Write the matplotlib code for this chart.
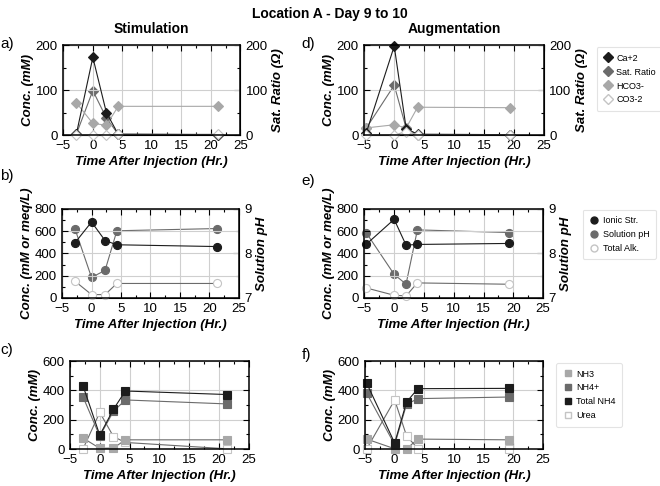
import matplotlib
matplotlib.use("Agg")
import matplotlib.pyplot as plt
from matplotlib.ticker import MultipleLocator
from matplotlib.lines import Line2D

plt.rcParams['font.family'] = ['Liberation Sans', 'DejaVu Sans']

# sampling times (hours after injection)
t_stim = [-2.8, 0, 2.3, 4.3, 21.3]
t_aug = [-4.7, 0, 2.0, 3.9, 19.3]

# a) / d) calcium, saturation ratio, carbonate species
ca_stim = [2, 173, 50, 2, 1]
sat_stim = [2, 99, 38, 2, 1]
hco3_stim = [72, 26, 22, 64, 64]
co3_stim = [0, 0, 0, 2, 2]

ca_aug = [4, 198, 14, 2, 1]
sat_aug = [15, 111, 15, 1, 1]
hco3_aug = [16, 23, 16, 62, 61]
co3_aug = [0, 0, 8, 1, 1]

# b) / e) ionic strength, pH, alkalinity
ionic_stim = [496, 683, 516, 478, 462]
ph_stim = [8.55, 7.46, 7.62, 8.51, 8.56]
alk_stim = [150, 30, 30, 130, 130]

ionic_aug = [481, 707, 475, 481, 490]
ph_aug = [8.47, 7.53, 7.31, 8.53, 8.47]
alk_aug = [90, 24, 18, 135, 123]

# c) / f) nitrogen species
nh3_stim = [75, 5, 7, 63, 63]
nh4p_stim = [355, 88, 258, 335, 308]
tnh4_stim = [430, 95, 272, 396, 372]
urea_stim = [2, 250, 85, 45, 2]

nh3_aug = [68, 2, 2, 68, 63]
nh4p_aug = [380, 30, 305, 344, 355]
tnh4_aug = [448, 41, 321, 412, 414]
urea_aug = [2, 335, 90, 3, 1]

BLACK = '#1c1c1c'
DARK = '#6b6b6b'
LIGHT = '#a8a8a8'
WEDGE = '#c4c4c4'
GRID = '#cfcfcf'
FS = 9.5
LABEL = dict(fontsize=FS, fontweight='bold', style='italic')


def style(ax, ylim, ymaj, ymin, right=True):
    ax.set_xlim(-5, 25)
    ax.set_ylim(*ylim)
    ax.xaxis.set_major_locator(MultipleLocator(5))
    ax.xaxis.set_minor_locator(MultipleLocator(2.5))
    ax.yaxis.set_major_locator(MultipleLocator(ymaj))
    ax.yaxis.set_minor_locator(MultipleLocator(ymin))
    ax.tick_params(which='both', direction='in', top=True, right=right,
                   labelsize=FS, pad=4)
    ax.tick_params(axis='x', which='both', pad=3.5)
    ax.tick_params(which='major', length=4, width=0.8)
    ax.tick_params(which='minor', length=2.5, width=0.8)
    ax.grid(True, which='major', color=GRID, lw=0.8)
    ax.set_axisbelow(True)
    for s in ax.spines.values():
        s.set_linewidth(1.1)
    ax.set_xlabel('Time After Injection (Hr.)', labelpad=3, **LABEL)


def series(ax, t, y, marker, face, edge, ms, lc=None):
    ax.plot(t, y, color=lc or edge, lw=0.8, marker=marker, ms=ms,
            mfc=face, mec=edge, mew=0.8, clip_on=False)


def twin(ax, ylim, ymaj, ymin, label):
    tw = ax.twinx()
    tw.set_ylim(*ylim)
    tw.yaxis.set_major_locator(MultipleLocator(ymaj))
    tw.yaxis.set_minor_locator(MultipleLocator(ymin))
    tw.tick_params(which='both', direction='in', labelsize=FS, pad=4)
    tw.tick_params(which='major', length=4, width=0.8)
    tw.tick_params(which='minor', length=2.5, width=0.8)
    tw.set_ylabel(label, labelpad=3, **LABEL)
    ax.set_zorder(tw.get_zorder() + 1)
    ax.patch.set_visible(False)
    return tw


fig = plt.figure(figsize=(6.6, 4.86), dpi=100)

pos = {
    'a': [0.096, 0.722, 0.268, 0.185],
    'd': [0.552, 0.722, 0.272, 0.185],
    'b': [0.094, 0.387, 0.268, 0.183],
    'e': [0.552, 0.387, 0.271, 0.183],
    'c': [0.106, 0.076, 0.271, 0.181],
    'f': [0.553, 0.076, 0.270, 0.181],
}

# top row: calcium / carbonate
for key, t, ca, sat, hco3, co3, title in [
        ('a', t_stim, ca_stim, sat_stim, hco3_stim, co3_stim, 'Stimulation'),
        ('d', t_aug, ca_aug, sat_aug, hco3_aug, co3_aug, 'Augmentation')]:
    ax = fig.add_axes(pos[key])
    style(ax, (0, 200), 100, 50, right=False)
    tw = twin(ax, (0, 200), 100, 50, 'Sat. Ratio (\u03a9)')
    series(tw, t, sat, 'D', DARK, DARK, 5.5)
    series(ax, t, hco3, 'D', LIGHT, LIGHT, 5.5)
    series(ax, t, ca, 'D', BLACK, BLACK, 5.5)
    series(ax, t, co3, 'D', 'white', WEDGE, 5.5, lc=LIGHT)
    ax.set_ylabel('Conc. (mM)', labelpad=1, **LABEL)
    ax.set_title(title, fontsize=FS + 0.5, fontweight='bold', pad=9)

# middle row: ionic strength / pH / alkalinity
for key, t, ionic, ph, alk in [('b', t_stim, ionic_stim, ph_stim, alk_stim),
                               ('e', t_aug, ionic_aug, ph_aug, alk_aug)]:
    ax = fig.add_axes(pos[key])
    style(ax, (0, 800), 200, 100, right=False)
    tw = twin(ax, (7, 9), 1, 0.5, 'Solution pH')
    series(tw, t, ph, 'o', DARK, DARK, 5.8)
    series(ax, t, alk, 'o', 'white', WEDGE, 5.8, lc=DARK)
    series(ax, t, ionic, 'o', BLACK, BLACK, 5.8)
    ax.set_ylabel('Conc. (mM or meq/L)', labelpad=1, **LABEL)

# bottom row: nitrogen species
for key, t, nh3, nh4p, tnh4, urea in [
        ('c', t_stim, nh3_stim, nh4p_stim, tnh4_stim, urea_stim),
        ('f', t_aug, nh3_aug, nh4p_aug, tnh4_aug, urea_aug)]:
    ax = fig.add_axes(pos[key])
    style(ax, (0, 600), 200, 100)
    series(ax, t, urea, 's', 'white', WEDGE, 5.2, lc=DARK)
    series(ax, t, nh3, 's', LIGHT, LIGHT, 5.2, lc=DARK)
    series(ax, t, nh4p, 's', DARK, DARK, 5.2)
    series(ax, t, tnh4, 's', BLACK, BLACK, 5.2)
    ax.set_ylabel('Conc. (mM)', labelpad=1, **LABEL)

fig.text(0.5, 0.985, 'Location A - Day 9 to 10', ha='center', va='top',
         fontsize=FS + 0.5, fontweight='bold')

for lab, x, y in [('a)', 0.0, 0.91), ('d)', 0.457, 0.91),
                  ('b)', 0.0, 0.638), ('e)', 0.457, 0.628),
                  ('c)', 0.0, 0.28), ('f)', 0.457, 0.27)]:
    fig.text(x, y, lab, fontsize=11, va='center', ha='left')


def legend(names, marker, faces, edges, anchor):
    handles = [Line2D([], [], ls='none', marker=marker, ms=5, mfc=f, mec=e)
               for f, e in zip(faces, edges)]
    lg = fig.legend(handles, names, loc='upper left', bbox_to_anchor=anchor,
                    fontsize=6.5, frameon=True, fancybox=True,
                    handletextpad=0.3, labelspacing=0.55, borderpad=0.7,
                    handlelength=1.2)
    lg.get_frame().set_edgecolor('#dddddd')
    lg.get_frame().set_linewidth(0.8)


legend(['Ca+2', 'Sat. Ratio', 'HCO3-', 'CO3-2'], 'D',
       [BLACK, DARK, LIGHT, 'white'], [BLACK, DARK, LIGHT, WEDGE],
       (0.897, 0.912))
legend(['Ionic Str.', 'Solution pH', 'Total Alk.'], 'o',
       [BLACK, DARK, 'white'], [BLACK, DARK, WEDGE], (0.876, 0.578))
legend(['NH3', 'NH4+', 'Total NH4', 'Urea'], 's',
       [LIGHT, DARK, BLACK, 'white'], [LIGHT, DARK, BLACK, WEDGE],
       (0.836, 0.262))

fig.savefig('out.png', dpi=100)
